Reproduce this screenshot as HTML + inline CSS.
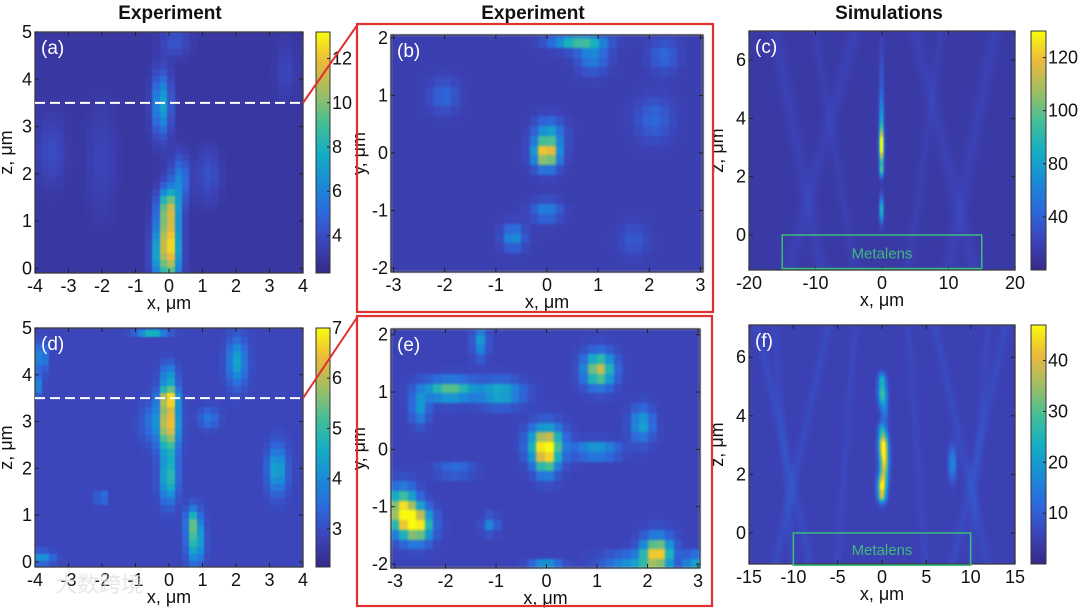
<!DOCTYPE html>
<html><head><meta charset="utf-8">
<style>
html,body{margin:0;padding:0;background:#fff;}
#root{position:relative;width:1080px;height:609px;overflow:hidden;background:#fff;font-family:"Liberation Sans",Arial,sans-serif;}
canvas{position:absolute;}
svg{position:absolute;left:0;top:0;}
</style></head>
<body>
<div id="root">
<svg id="ov" width="1080" height="609"></svg>
</div>
<script>
// ---- data: hotspots [x, z(or y), sigmaX, sigmaZ, amplitude] ----
const spotsA = [[0,0.5,0.22,0.6,10],[0,1.35,0.2,0.25,4.5],[0.35,1.9,0.18,0.35,3],[-0.2,3.5,0.18,0.45,4.5],[0.2,4.8,0.3,0.2,1.3],
  [-3.5,2.5,0.3,0.5,1],[-2,2.3,0.3,0.8,0.7],[1.2,2,0.25,0.4,1.2],[3.5,4.2,0.2,0.4,0.8],[-0.4,0.3,0.12,0.4,2]];
const spotsB = [[0,0,0.17,0.17,0.85],[0.05,0.35,0.2,0.18,0.3],[0.6,1.97,0.35,0.1,0.5],[0.9,1.7,0.2,0.2,0.25],[-0.65,-1.45,0.15,0.15,0.3],
  [0,-1,0.2,0.12,0.25],[-2,1,0.2,0.2,0.15],[2.1,0.6,0.25,0.25,0.15],[2.3,1.7,0.2,0.2,0.15],[1.7,-1.5,0.2,0.2,0.1]];
const spotsC = [[0,3.1,0.25,0.45,95],[0,0.9,0.22,0.3,45],[0,4.2,0.25,0.5,25],[0,2.25,0.22,0.15,40],[0,5.5,0.25,0.8,10]];
const streaksC = [[-14,-4,0.7,3],[-9,-16,0.7,3],[14,5,0.7,3],[10,17,0.7,3],[-4,-10,0.5,2.5],[4,9,0.5,2.5]];
const spotsD = [[0,3.0,0.2,0.45,3.8],[0,3.55,0.18,0.15,2.3],[0,1.8,0.17,0.35,2.1],[0.8,0.5,0.17,0.35,2.2],[0.7,0.9,0.12,0.2,1.4],
  [2.05,4.3,0.2,0.35,1.6],[3.25,2,0.2,0.35,1.7],[-0.5,4.97,0.3,0.05,3.5],[-3.8,4.4,0.12,0.2,1.4],[-3.9,3.8,0.1,0.15,1.1],
  [-3.8,0.1,0.25,0.1,1.4],[-2,1.4,0.1,0.1,1.1],[-0.5,3.0,0.25,0.3,0.7],[1.2,3.1,0.2,0.15,0.9],[0,4.0,0.15,0.2,1.2]];
const spotsE = [[0,0.1,0.22,0.22,0.8],[0,-0.2,0.15,0.2,0.4],[1.05,1.4,0.2,0.2,0.7],[-1.9,1.05,0.35,0.13,0.55],[-0.9,1,0.3,0.15,0.4],
  [-2.5,0.75,0.12,0.2,0.3],[-1.3,1.9,0.1,0.2,0.3],[1,0,0.3,0.1,0.35],[1.9,0.45,0.15,0.2,0.35],[-2.85,-1.05,0.2,0.25,0.8],
  [-2.55,-1.3,0.2,0.2,0.8],[2.2,-1.8,0.2,0.2,0.8],[1.7,-1.95,0.4,0.1,0.3],[2.9,-1.95,0.1,0.1,0.4],[-1.8,-0.35,0.25,0.08,0.2],
  [0,-2,0.2,0.05,0.3],[-1.1,-1.3,0.1,0.1,0.25]];
const spotsF = [[0.05,1.6,0.35,0.3,38],[0.3,2.5,0.35,0.5,38],[0.15,3.1,0.35,0.3,28],[0,3.6,0.3,0.15,10],[0.35,4.2,0.3,0.3,9],
  [0.1,4.8,0.35,0.3,24],[0.05,5.3,0.3,0.15,14],[8,2.4,0.3,0.4,13],[0.05,1.25,0.3,0.1,14]];
const streaksF = [[-12,-6,0.4,2],[-8,-14,0.4,2],[-5,-3,0.35,1.5],[12,6,0.4,2],[8,14,0.4,2],[5,3,0.35,1.5],[-10,-12,0.35,1.5],[10,12,0.35,1.5]];
const ticksAx = [-4,-3,-2,-1,0,1,2,3,4], ticksAz = [0,1,2,3,4,5];
const ticksBx = [-3,-2,-1,0,1,2,3], ticksBy = [-2,-1,0,1,2];
const ticksCx = [-20,-10,0,10,20], ticksCz = [0,2,4,6];
const ticksFx = [-15,-10,-5,0,5,10,15];
const cbTicksA = [4,6,8,10,12], cbTicksD = [3,4,5,6,7];
const cbTicksC = [60,80,100,120], cbLabelsC = ["40","80","100","120"];
const cbTicksF = [10,20,30,40];

function parula(t){
  t=Math.max(0,Math.min(1,t));
  const s=[[53,42,135],[60,68,185],[45,105,220],[25,140,215],[20,175,195],[70,190,150],[160,190,100],[235,185,60],[249,251,14]];
  const p=t*(s.length-1), i=Math.min(s.length-2,Math.floor(p)), f=p-i;
  return 'rgb('+s[i].map((v,k)=>Math.round(v+(s[i+1][k]-v)*f)).join(',')+')';
}
const NS='http://www.w3.org/2000/svg', ov=document.getElementById('ov'), root=document.getElementById('root');
function el(tag,attrs,txt){const e=document.createElementNS(NS,tag);for(const k in attrs)e.setAttribute(k,attrs[k]);if(txt!==undefined)e.textContent=txt;ov.appendChild(e);return e;}

const panels=[
 {id:'a',L:35,T:32,W:268,H:241,x0:-4,x1:4,y0:-0.1,y1:5,dx:0.22,dy:0.15,base:3,cmin:2.3,cmax:13.2,spots:spotsA,streaks:[],xt:ticksAx,yt:ticksAz,yl:'z, μm',blur:0.6,
  cb:{L:316,ticks:cbTicksA,labels:cbTicksA.map(String)}},
 {id:'b',L:391,T:35,W:312,H:237,x0:-3.05,x1:3.05,y0:-2.07,y1:2.05,dx:0.17,dy:0.17,base:0.1,cmin:0,cmax:1,spots:spotsB,streaks:[],xt:ticksBx,yt:ticksBy,yl:'y, μm',blur:1},
 {id:'c',L:749,T:31,W:266,H:239,x0:-20,x1:20,y0:-1.2,y1:7,dx:0.2,dy:0.05,base:47,cmin:40,cmax:130,spots:spotsC,streaks:streaksC,xt:ticksCx,yt:ticksCz,yl:'z, μm',blur:0.4,
  cb:{L:1031,ticks:cbTicksC,labels:cbLabelsC},lens:[-15,15,-1.15,0]},
 {id:'d',L:35,T:328,W:268,H:239,x0:-4,x1:4,y0:-0.11,y1:5,dx:0.22,dy:0.15,base:2.85,cmin:2.24,cmax:7,spots:spotsD,streaks:[],xt:ticksAx,yt:ticksAz,yl:'z, μm',blur:0.6,
  cb:{L:316,ticks:cbTicksD,labels:cbTicksD.map(String)}},
 {id:'e',L:391,T:329,W:309,H:239,x0:-3.08,x1:3.04,y0:-2.07,y1:2.1,dx:0.17,dy:0.17,base:0.12,cmin:0,cmax:1,spots:spotsE,streaks:[],xt:ticksBx,yt:ticksBy,yl:'y, μm',blur:1},
 {id:'f',L:749,T:325,W:266,H:239,x0:-15,x1:15,y0:-1.06,y1:7.1,dx:0.15,dy:0.05,base:5,cmin:0,cmax:47,spots:spotsF,streaks:streaksF,xt:ticksFx,yt:ticksCz,yl:'z, μm',blur:0.4,
  cb:{L:1031,ticks:cbTicksF,labels:cbTicksF.map(String)},lens:[-10,10,-1.1,0]}
];

panels.forEach(p=>{
  const sx=x=>p.L+(x-p.x0)/(p.x1-p.x0)*p.W, sy=y=>p.T+(p.y1-y)/(p.y1-p.y0)*p.H;
  const cv=document.createElement('canvas');
  cv.width=p.W;cv.height=p.H;cv.style.left=p.L+'px';cv.style.top=p.T+'px';cv.style.filter='blur('+p.blur+'px)';
  
  
  root.insertBefore(cv,ov);
  const ctx=cv.getContext('2d');
  ctx.fillStyle=parula((p.base-p.cmin)/(p.cmax-p.cmin));ctx.fillRect(0,0,p.W,p.H);
  for(let x=p.x0;x<p.x1;x+=p.dx){for(let y=p.y0;y<p.y1;y+=p.dy){
    const cx=x+p.dx/2, cy=y+p.dy/2; let v=p.base;
    p.spots.forEach(s=>{v+=s[4]*Math.exp(-((cx-s[0])**2/(2*s[2]*s[2])+(cy-s[1])**2/(2*s[3]*s[3])));});
    p.streaks.forEach(s=>{const xc=s[0]+(s[1]-s[0])*(cy-p.y0)/(p.y1-p.y0);v+=s[3]*Math.exp(-((cx-xc)**2)/(2*s[2]*s[2]));});
    ctx.fillStyle=parula((v-p.cmin)/(p.cmax-p.cmin));
    const X=sx(x)-p.L, Y=sy(y+p.dy)-p.T;
    ctx.fillRect(Math.floor(X),Math.floor(Y),Math.ceil(sx(x+p.dx)-sx(x))+1,Math.ceil(sy(y)-sy(y+p.dy))+1);
  }}
  const fr=el('rect',{x:p.L,y:p.T,width:p.W,height:p.H,fill:'none',stroke:'#333',"stroke-width":1.2});
  
  
  p.xt.forEach(t=>{const X=sx(t);
    el('line',{x1:X,x2:X,y1:p.T+p.H,y2:p.T+p.H-4,stroke:'#222'});el('line',{x1:X,x2:X,y1:p.T,y2:p.T+4,stroke:'#222'});
    const tx=el('text',{x:X,y:p.T+p.H+19,"font-size":18,"text-anchor":"middle",fill:'#111'},String(t));
    
    });
  p.yt.forEach(t=>{const Y=sy(t);
    el('line',{x1:p.L,x2:p.L+4,y1:Y,y2:Y,stroke:'#222'});el('line',{x1:p.L+p.W,x2:p.L+p.W-4,y1:Y,y2:Y,stroke:'#222'});
    const tx=el('text',{x:p.L-3,y:Y+6,"font-size":18,"text-anchor":"end",fill:'#111'},String(t));
    
    });
  const xl=el('text',{x:p.L+p.W/2,y:p.T+p.H+36,"font-size":18,"text-anchor":"middle",fill:'#111'},'x, μm');
  
  
  const yx=p.L-(p.id==='a'||p.id==='d'?23:26), yy=p.T+p.H/2;
  const yl=el('text',{x:yx,y:yy,"font-size":18,"text-anchor":"middle",fill:'#111',transform:'rotate(-90 '+yx+' '+yy+')'},p.yl);
  
  
  const pl=el('text',{x:p.L+6,y:p.T+22,"font-size":19,fill:'#fff'},'('+p.id+')');
  
  
  if(p.lens){
    const lr=el('rect',{x:sx(p.lens[0]),y:sy(p.lens[3]),width:sx(p.lens[1])-sx(p.lens[0]),height:sy(p.lens[2])-sy(p.lens[3]),fill:'none',stroke:'#3dbb7a',"stroke-width":1.5});
    
    
    const lt=el('text',{x:sx(0),y:sy(p.lens[2])-10,"font-size":15,"text-anchor":"middle",fill:'#3dbb7a'},'Metalens');
    
    
  }
  if(p.cb){
    const c=document.createElement('canvas');const cw=p.id==='a'||p.id==='d'?14:15;
    c.width=cw;c.height=p.H;c.style.left=p.cb.L+'px';c.style.top=p.T+'px';
    
    
    root.insertBefore(c,ov);const g=c.getContext('2d');
    for(let i=0;i<p.H;i++){g.fillStyle=parula(1-i/p.H);g.fillRect(0,i,cw,1);}
    el('rect',{x:p.cb.L,y:p.T,width:cw,height:p.H,fill:'none',stroke:'#333',"stroke-width":1});
    p.cb.ticks.forEach((t,i)=>{const Y=p.T+(p.cmax-t)/(p.cmax-p.cmin)*p.H;
      el('line',{x1:p.cb.L+cw,x2:p.cb.L+cw-3,y1:Y,y2:Y,stroke:'#222'});
      const tx=el('text',{x:p.cb.L+cw+2,y:Y+6,"font-size":18,fill:'#111'},p.cb.labels[i]);
      
      });
  }
  if(p.id==='a'||p.id==='d'){
    const dl=el('line',{x1:p.L,x2:p.L+p.W,y1:sy(3.5),y2:sy(3.5),stroke:'#fff',"stroke-width":2,"stroke-dasharray":"10,5"});
    
    
    const rl=el('line',{x1:p.L+p.W,y1:sy(3.5),x2:358,y2:p.id==='a'?24:316,stroke:'#e03030',"stroke-width":2});
    
    
  }
});
[[357,24,356,288],[357,316,355,290]].forEach(r=>{
  const b=el('rect',{x:r[0],y:r[1],width:r[2],height:r[3],fill:'none',stroke:'#e03030',"stroke-width":2.2});
  
  
});
[['Experiment',170],['Experiment',533],['Simulations',889]].forEach(t=>{
  const h=el('text',{x:t[1],y:19,"font-size":19,"font-weight":"bold","text-anchor":"middle",fill:'#111'},t[0]);
  
  
});
const wm=el('text',{x:55,y:592,"font-size":22,fill:'#ddd',"fill-opacity":0.7,"font-family":"'Noto Sans CJK SC',sans-serif"},'大数跨境');


</script>
</body></html>
